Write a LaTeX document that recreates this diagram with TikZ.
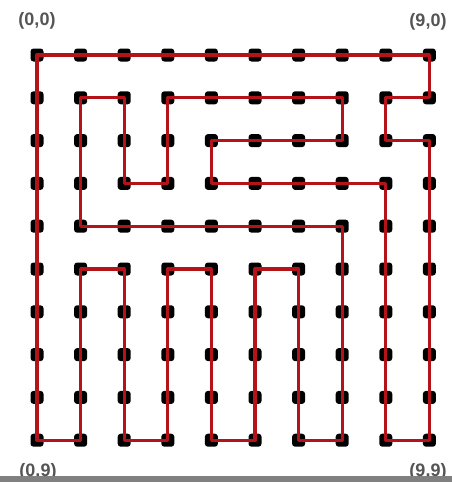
\documentclass[tikz,border=0pt]{standalone}
\usepackage{fontspec}
\setsansfont{Liberation Sans}
\usetikzlibrary{calc}
\definecolor{routered}{RGB}{180,20,25}
\definecolor{lblgray}{RGB}{85,85,85}

\begin{document}
\begin{tikzpicture}[x=1pt,y=-1pt,
  dot/.style={rectangle, rounded corners=3pt, fill=black, minimum size=13pt, inner sep=0pt},
  route/.style={draw=routered, line width=3.2pt, line join=round},
  lbl/.style={font=\sffamily\bfseries\fontsize{18}{18}\selectfont, text=lblgray}]
  \useasboundingbox (0,0) rectangle (452,482);
  \fill[white] (0,0) rectangle (452,482);

  % grid of dots
  \foreach \i in {0,...,9}
    \foreach \j in {0,...,9}
      \node[dot] (p-\i-\j) at ({37+43.6*\i},{55+42.8*\j}) {};

  % closed tour through all dots
  \draw[route] (p-0-9.center)
    \foreach \i/\j in {1/9,1/5,2/5,2/9,3/9,3/5,4/5,4/9,5/9,5/5,6/5,6/9,7/9,7/4,
                       1/4,1/1,2/1,2/3,3/3,3/1,7/1,7/2,4/2,4/3,8/3,8/9,9/9,9/2,
                       8/2,8/1,9/1,9/0,0/0} { -- (p-\i-\j.center) } -- cycle;

  \node[lbl] (l00) at (37,21) {(0,0)};
  \node[lbl] (l90) at (428,22) {(9,0)};
  \node[lbl] (l09) at (38,472) {(0,9)};
  \node[lbl] (l99) at (428,472) {(9,9)};

  \fill[gray] (0,476) rectangle (452,482);
\end{tikzpicture}
\end{document}
